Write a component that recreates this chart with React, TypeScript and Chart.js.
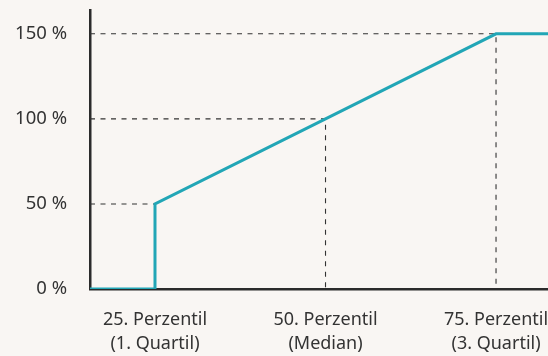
import React, { useEffect, useRef } from 'react';
import { Chart, registerables } from 'chart.js';

Chart.register(...registerables);

const percentiles = [25, 50, 75];
const percentileLabels = [
  ['25. Perzentil', '(1. Quartil)'],
  ['50. Perzentil', '(Median)'],
  ['75. Perzentil', '(3. Quartil)'],
];
const percentileValues = [50, 100, 150];
const curveX = [15.47, 25, 25, 50, 75, 82.62];
const curveY = [0, 0, 50, 100, 150, 150];
const yTicks = [0, 50, 100, 150];
const xMin = 15.47;
const xMax = 82.62;
const yMin = 0;
const yMax = 164;

const BG = '#f9f6f3';
const TEXT = '#333333';
const TEAL = '#22a6b6';
const FONT = '"Noto Sans", sans-serif';

const noPad = (scale: any) => {
  scale.paddingTop = 0;
  scale.paddingBottom = 0;
  scale.paddingLeft = 0;
  scale.paddingRight = 0;
};

export default function App() {
  const ref = useRef<HTMLCanvasElement | null>(null);

  useEffect(() => {
    document.body.style.margin = '0';
    document.body.style.background = BG;
    const canvas = ref.current;
    if (!canvas) return;

    const guideSets = percentiles.map((p, i) => ({
      data: [
        { x: xMin, y: percentileValues[i] },
        { x: p, y: percentileValues[i] },
        { x: p, y: 0 },
      ],
      borderColor: '#333333',
      borderWidth: 1.1,
      borderDash: [5, 5.5],
      pointRadius: 0,
      fill: false,
      tension: 0,
      order: 2,
    }));

    const chart = new Chart(canvas, {
      type: 'line',
      data: {
        datasets: [
          {
            data: curveX.map((x, i) => ({ x, y: curveY[i] })),
            borderColor: TEAL,
            borderWidth: 3,
            pointRadius: 0,
            fill: false,
            tension: 0,
            order: 1,
          },
          ...guideSets,
        ] as any,
      },
      options: {
        animation: false,
        responsive: true,
        maintainAspectRatio: false,
        layout: { padding: { top: 10, left: 0, right: 0, bottom: 0 } },
        plugins: { legend: { display: false }, tooltip: { enabled: false } },
        scales: {
          x: {
            type: 'linear',
            min: xMin,
            max: xMax,
            grid: { display: false },
            border: { display: true, color: '#2b2b2b', width: 2.5 },
            afterBuildTicks: (scale: any) => {
              scale.ticks = percentiles.map((v) => ({ value: v }));
            },
            afterFit: (scale: any) => {
              scale.height = 67;
              noPad(scale);
            },
            ticks: {
              autoSkip: false,
              maxRotation: 0,
              padding: 11,
              color: TEXT,
              font: { family: FONT, size: 18, lineHeight: 1.333 },
              callback: (v: any) => {
                const i = percentiles.indexOf(Number(v));
                return i >= 0 ? percentileLabels[i] : '';
              },
            },
          },
          y: {
            type: 'linear',
            min: yMin,
            max: yMax,
            grid: { display: false, drawTicks: false },
            border: { display: true, color: '#2b2b2b', width: 2.5 },
            afterBuildTicks: (scale: any) => {
              scale.ticks = yTicks.map((v) => ({ value: v }));
            },
            afterFit: (scale: any) => {
              scale.width = 90;
              noPad(scale);
            },
            ticks: {
              padding: 23,
              color: TEXT,
              font: { family: FONT, size: 18.5 },
              callback: (v: any) => `${v} %`,
            },
          },
        },
      },
    });
    return () => chart.destroy();
  }, []);

  return (
    <div style={{ width: 548, height: 356, position: 'relative', background: BG }}>
      <canvas ref={ref} />
    </div>
  );
}
